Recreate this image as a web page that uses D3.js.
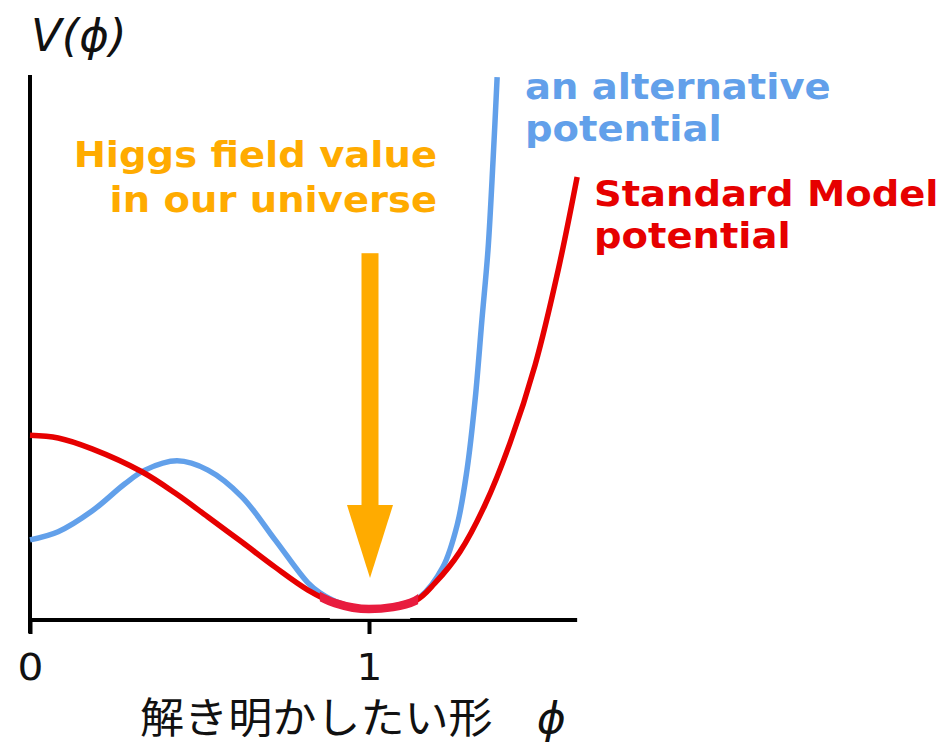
<!DOCTYPE html>
<html>
<head>
<meta charset="utf-8">
<script src="https://cdn.jsdelivr.net/npm/d3@7"></script>
<style>
  html, body { margin: 0; padding: 0; background: #ffffff; }
  svg { display: block; }
</style>
</head>
<body>
<svg id="chart" width="948" height="744"></svg>
<script>
// Field value φ (in units of the observed vacuum value) and potential V(φ), arbitrary units
const smPhi = [0.000, 0.083, 0.183, 0.330, 0.428, 0.525, 0.625, 0.723, 0.820, 0.900, 1.000,
               1.136, 1.195, 1.268, 1.342, 1.416, 1.490, 1.558, 1.614];
const smV   = [0.339, 0.334, 0.314, 0.272, 0.233, 0.189, 0.143, 0.097, 0.055, 0.031, 0.020,
               0.035, 0.068, 0.125, 0.211, 0.325, 0.468, 0.642, 0.813];

const altPhi = [0.000, 0.083, 0.183, 0.280, 0.339, 0.434, 0.525, 0.625, 0.723, 0.820, 0.855,
                0.914, 1.000, 1.091, 1.150, 1.218, 1.260, 1.289, 1.313, 1.333, 1.351, 1.366, 1.378];
const altV   = [0.147, 0.162, 0.200, 0.250, 0.275, 0.292, 0.275, 0.226, 0.147, 0.068, 0.050,
                0.031, 0.020, 0.028, 0.042, 0.097, 0.174, 0.275, 0.404, 0.550, 0.679, 0.844, 0.996];

// Region around today's vacuum where both potentials agree
const vacuumRange = [0.855, 1.145];

// Arrow pointing at the vacuum: from V top down to V tip, at φ = 1
const arrowPhi = 1.0;
const arrowV = [0.673, 0.077];

const xTicks = [0, 1];
const xTickLabels = ["0", "1"];
const xDomainMax = 1.614;
const yDomainMax = 1.0;

const higgsLines = ["Higgs field value", "in our universe"];
const altLines = ["an alternative", "potential"];
const smLines = ["Standard Model", "potential"];
const yTitle = "V(\u03d5)";
const xTitle = "解き明かしたい形";

const RED = "#e60000", BLUE = "#62a0ea", ORANGE = "#ffab00", CRIMSON = "#e81c3e";
const BOLD = "'DejaVu Sans', Verdana, sans-serif";

const svg = d3.select("#chart");
const x = d3.scaleLinear().domain([0, 1]).range([30, 369]);
const y = d3.scaleLinear().domain([0, 1]).range([620, 75]);

const smData = smPhi.map((p, i) => [p, smV[i]]);
const altData = altPhi.map((p, i) => [p, altV[i]]);

const line = d3.line().x(d => x(d[0])).y(d => y(d[1])).curve(d3.curveCatmullRom.alpha(0.5));

// Axes
const yAxisBottom = y(-0.024);
svg.append("line")
  .attr("x1", x(0)).attr("x2", x(0))
  .attr("y1", y(yDomainMax)).attr("y2", yAxisBottom)
  .attr("stroke", "#000").attr("stroke-width", 4);

const xAxis = d3.axisBottom(x).tickValues(xTicks).tickSize(14)
  .tickFormat((d, i) => xTickLabels[i]);
const gx = svg.append("g").attr("transform", `translate(0,${y(0)})`).call(xAxis);
gx.select(".domain").remove();
gx.selectAll(".tick line").attr("stroke", "#000").attr("stroke-width", 4);
gx.selectAll(".tick text")
  .attr("y", 0).attr("dy", 0)
  .attr("font-family", BOLD).attr("font-size", 37).attr("fill", "#111")
  .attr("transform", "translate(0,60) scale(1.1,1)");
svg.append("line")
  .attr("x1", x(0) - 2).attr("x2", x(xDomainMax))
  .attr("y1", y(0)).attr("y2", y(0))
  .attr("stroke", "#000").attr("stroke-width", 4);

// Potentials
svg.append("path").datum(altData).attr("d", line)
  .attr("fill", "none").attr("stroke", BLUE).attr("stroke-width", 5.5);
svg.append("path").datum(smData).attr("d", line)
  .attr("fill", "none").attr("stroke", RED).attr("stroke-width", 5.5);

// Highlight the common vacuum region
svg.append("clipPath").attr("id", "vac")
  .append("rect")
  .attr("x", x(vacuumRange[0])).attr("width", x(vacuumRange[1]) - x(vacuumRange[0]))
  .attr("y", 0).attr("height", 744);
svg.append("line")
  .attr("x1", x(vacuumRange[0]) + 10).attr("x2", x(vacuumRange[1]) - 8)
  .attr("y1", y(0) - 1.6).attr("y2", y(0) - 1.6)
  .attr("stroke", "#fff").attr("stroke-width", 1.2).attr("opacity", 0.8);
svg.append("path").datum(smData).attr("d", line)
  .attr("clip-path", "url(#vac)")
  .attr("fill", "none").attr("stroke", CRIMSON).attr("stroke-width", 8.5);

// Arrow
const ax = x(arrowPhi) + 1, shaftW = 17, headW = 46;
const headBase = y(arrowV[1]) - 73;
svg.append("rect")
  .attr("x", ax - shaftW / 2).attr("y", y(arrowV[0]))
  .attr("width", shaftW).attr("height", headBase - y(arrowV[0]) + 1)
  .attr("fill", ORANGE);
svg.append("path")
  .attr("d", `M${ax - headW / 2},${headBase} L${ax + headW / 2},${headBase} L${ax},${y(arrowV[1])} Z`)
  .attr("fill", ORANGE);

// Text blocks
function block(lines, px, py, step, anchor, color) {
  lines.forEach((t, i) => {
    svg.append("text")
      .attr("transform", `translate(${px},${py + i * step}) scale(1.1,1)`)
      .attr("text-anchor", anchor)
      .attr("font-family", BOLD).attr("font-weight", "bold")
      .attr("font-size", 35).attr("fill", color)
      .text(t);
  });
}
block(higgsLines, 437, 167, 45, "end", ORANGE);
block(altLines, 525, 99, 42, "start", BLUE);
block(smLines, 594, 206, 42, "start", RED);

// Axis titles
svg.append("text")
  .attr("x", 31).attr("y", 51)
  .attr("font-family", BOLD).attr("font-style", "italic")
  .attr("font-size", 45).attr("fill", "#111")
  .text(yTitle);

const xt = svg.append("text")
  .attr("transform", "translate(140,733) scale(1.05,1)")
  .attr("font-size", 42).attr("fill", "#111");
xt.append("tspan").attr("font-family", "'Noto Sans CJK JP', sans-serif").text(xTitle);
xt.append("tspan").attr("font-family", BOLD).attr("font-style", "italic").attr("dx", 42).text("\u03d5");
</script>
</body>
</html>
